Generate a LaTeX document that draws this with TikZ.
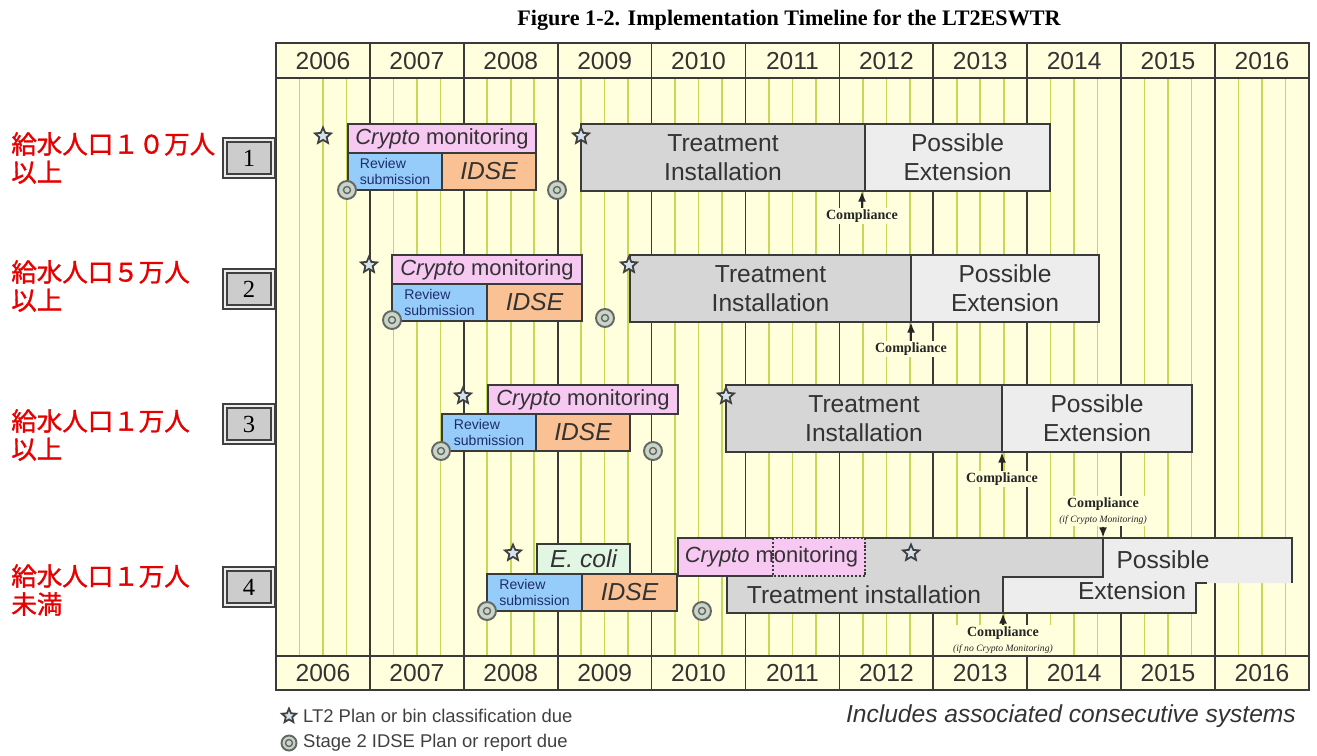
\documentclass[tikz,border=0pt]{standalone}
\usepackage{fontspec}
\setmainfont{Liberation Sans}
\newfontfamily\timesfont{Liberation Serif}
\newfontfamily\jpfont[FakeBold=1.2]{Noto Sans CJK JP}
\usetikzlibrary{positioning,shapes.geometric,arrows.meta}
\newcommand{\pxu}{0.02cm}
\definecolor{chartbg}{RGB}{255,255,222}
\definecolor{quartergreen}{RGB}{198,216,88}
\definecolor{gridgray}{RGB}{58,58,58}
\definecolor{cryptopink}{RGB}{247,200,242}
\definecolor{reviewblue}{RGB}{150,204,250}
\definecolor{reviewtext}{RGB}{30,45,110}
\definecolor{idseorange}{RGB}{250,194,148}
\definecolor{treatgray}{RGB}{214,214,214}
\definecolor{extgray}{RGB}{237,237,237}
\definecolor{ecoligreen}{RGB}{226,246,228}
\definecolor{starfill}{RGB}{212,226,236}
\definecolor{stagefill}{RGB}{200,214,200}
\definecolor{labelred}{RGB}{230,0,0}

\begin{document}
\begin{tikzpicture} [x = 0.02cm, y = -0.02cm,
    box/.style = {rectangle, draw = gridgray, line width = 1.2pt, outer sep = 0pt, inner sep = 1pt, text = black!80},
    crypto/.style = {box, fill = cryptopink, minimum height = 29*\pxu, font = \fontsize{12.5}{14}\selectfont},
    review/.style = {box, fill = reviewblue, minimum height = 37*\pxu, minimum width = 94*\pxu, align = left, text = reviewtext, font = \fontsize{8}{9.5}\selectfont},
    idse/.style = {box, fill = idseorange, minimum height = 37*\pxu, minimum width = 94*\pxu, font = \fontsize{14}{16}\selectfont\itshape},
    treat/.style = {box, fill = treatgray, minimum height = 67*\pxu, align = center, font = \fontsize{14}{16.5}\selectfont},
    ext/.style = {treat, fill = extgray},
    ecoli/.style = {box, fill = ecoligreen, minimum height = 30*\pxu, minimum width = 93*\pxu, font = \fontsize{14}{16}\selectfont\itshape},
    bandtext/.style = {text = black!80, font = \fontsize{14}{16}\selectfont},
    due/.style = {star, star points = 5, star point ratio = 2.2, draw = black!75, fill = starfill, line width = 1pt, minimum size = 17*\pxu, inner sep = 0pt},
    stage/.style = {circle, draw = black!60, fill = stagefill, line width = 1.1pt, minimum size = 18*\pxu, inner sep = 0pt,
        path picture = {\draw [black!60, line width = 0.8pt] (path picture bounding box.center) circle (3.5*\pxu);}},
    comp/.style = {fill = chartbg, inner sep = 1pt, align = center, text = black!85, font = \timesfont\bfseries\fontsize{8}{8.5}\selectfont},
    rowbox/.style = {rectangle, draw = black!75, line width = 1pt, double = gray!15, double distance = 1.2pt, fill = gray!40,
        minimum width = 48*\pxu, minimum height = 36*\pxu, font = \timesfont\fontsize{14}{16}\selectfont},
    jplab/.style = {anchor = west, align = left, inner sep = 0pt, text = labelred, font = \jpfont\fontsize{14.5}{16}\selectfont},
    yearlab/.style = {text = black!80, font = \fontsize{14}{16}\selectfont},
    legend/.style = {text = black!75, font = \fontsize{10.5}{12}\selectfont},
    qline/.style = {quartergreen, line width = 0.9pt},
    yline/.style = {gridgray, line width = 1pt},
    frame/.style = {gridgray, line width = 1.3pt},
    boxline/.style = {gridgray, line width = 1.2pt},
    arr/.style = {-{Latex[length = 6pt, width = 4.5pt]}, line width = 1.3pt, black!85}]
\useasboundingbox (0,0) rectangle (1317,755);
\node (title) [font = \timesfont\bfseries\fontsize{12.6}{14}\selectfont] at (789,20) {Figure 1-2. Implementation Timeline for the LT2ESWTR};

\fill [chartbg] (276,43) rectangle (1309,690);
\foreach \i in {0,...,10}
    \foreach \q in {1,2,3}
        \draw [qline] ({276+93.9*(\i+\q/4)},78) -- ({276+93.9*(\i+\q/4)},656);
\foreach \i in {1,...,10}
    \draw [yline] ({276+93.9*\i},43) -- ({276+93.9*\i},690);
\draw [frame] (276,43) rectangle (1309,690);
\draw [frame] (276,78) -- (1309,78) (276,656) -- (1309,656);
\foreach \yr [count = \i from 0] in {2006,...,2016} {
    \node (top\yr) [yearlab] at ({276+93.9*(\i+0.5)},61) {\yr};
    \node (bot\yr) [yearlab] at ({276+93.9*(\i+0.5)},673) {\yr};
}

\node (r1) [rowbox] at (249,158) {1};
\node (r2) [rowbox] at (249,289) {2};
\node (r3) [rowbox] at (249,424) {3};
\node (r4) [rowbox] at (249,587) {4};
\node (j1) [jplab] at (11,158) {給水人口１０万人\\以上};
\node (j2) [jplab] at (11,286) {給水人口５万人\\以上};
\node (j3) [jplab] at (11,435) {給水人口１万人\\以上};
\node (j4) [jplab] at (11,590) {給水人口１万人\\未満};

\node (cm1) [crypto, minimum width = 188*\pxu, anchor = north west] at (348,124) {\textit{Crypto} monitoring};
\node (rs1) [review, below right = 0pt of cm1.south west] {Review\\submission};
\node (id1) [idse, right = 0pt of rs1] {IDSE};
\node (ti1) [treat, minimum width = 284*\pxu, anchor = north west] at (581,124) {Treatment\\Installation};
\node (pe1) [ext, minimum width = 185*\pxu, right = 0pt of ti1] {Possible\\Extension};

\node (cm2) [crypto, minimum width = 190*\pxu, anchor = north west] at (392,255) {\textit{Crypto} monitoring};
\node (rs2) [review, minimum width = 95*\pxu, below right = 0pt of cm2.south west] {Review\\submission};
\node (id2) [idse, minimum width = 95*\pxu, right = 0pt of rs2] {IDSE};
\node (ti2) [treat, minimum width = 281*\pxu, anchor = north west] at (630,255) {Treatment\\Installation};
\node (pe2) [ext, minimum width = 188*\pxu, right = 0pt of ti2] {Possible\\Extension};

\node (cm3) [crypto, minimum width = 190*\pxu, anchor = north west] at (488,385) {\textit{Crypto} monitoring};
\node (rs3) [review, anchor = north west] at (442,414) {Review\\submission};
\node (id3) [idse, right = 0pt of rs3] {IDSE};
\node (ti3) [treat, minimum width = 276*\pxu, anchor = north west] at (726,385) {Treatment\\Installation};
\node (pe3) [ext, minimum width = 190*\pxu, right = 0pt of ti3] {Possible\\Extension};

\fill [treatgray] (678,538) -- (1103,538) -- (1103,577) -- (1003,577) -- (1003,613) -- (727,613) -- (727,576) -- (678,576) -- cycle;
\fill [extgray] (1103,538) -- (1292,538) -- (1292,583) -- (1196,583) -- (1196,613) -- (1003,613) -- (1003,577) -- (1103,577) -- cycle;
\draw [boxline] (1292,583) -- (1292,538) -- (678,538) -- (678,576) -- (727,576) -- (727,613) -- (1196,613) -- (1196,583) -- (1207,583);
\draw [boxline] (1103,538) -- (1103,577) -- (1003,577) -- (1003,613);
\node (cm4) [crypto, draw = none, minimum width = 187*\pxu, minimum height = 38*\pxu, anchor = north west] at (678,538) {\textit{Crypto} monitoring};
\draw [boxline] (773,538) -- (cm4.north west) -- (cm4.south west) -- (773,576);
\draw [boxline, densely dotted] (773,538) rectangle (cm4.south east);
\node (ti4) [bandtext] at (864,595) {Treatment installation};
\node (pe4a) [bandtext] at (1163,560) {Possible};
\node (pe4b) [bandtext] at (1132,591) {Extension};
\node (ec4) [ecoli, anchor = north west] at (537,544) {E. coli};
\node (rs4) [review, minimum width = 95*\pxu, anchor = north west] at (487,574) {Review\\submission};
\node (id4) [idse, minimum width = 95*\pxu, right = 0pt of rs4] {IDSE};

\node (s1a) [due] at (323,136) {};
\node (s1b) [due] at (581,136) {};
\node (s2a) [due] at (369,265) {};
\node (s2b) [due] at (629,265) {};
\node (s3a) [due] at (463,396) {};
\node (s3b) [due] at (726,396) {};
\node (s4a) [due] at (513,553) {};
\node (s4b) [due] at (911,553) {};
\node (c1a) [stage] at (347,190) {};
\node (c1b) [stage] at (557,190) {};
\node (c2a) [stage] at (392,320) {};
\node (c2b) [stage] at (605,318) {};
\node (c3a) [stage] at (441,451) {};
\node (c3b) [stage] at (653,451) {};
\node (c4a) [stage] at (487,611) {};
\node (c4b) [stage] at (702,611) {};

\node (cp1) [comp] at (862,216) {Compliance};
\node (cp2) [comp] at (911,349) {Compliance};
\node (cp3) [comp] at (1002,479) {Compliance};
\node (cp4a) [comp] at (1103,511) {Compliance\\{\fontsize{5.5}{6}\selectfont\mdseries\itshape(if Crypto Monitoring)}};
\node (cp4b) [comp] at (1003,640) {Compliance\\{\fontsize{5.5}{6}\selectfont\mdseries\itshape(if no Crypto Monitoring)}};
\coordinate (top4) at (1103,538);
\coordinate (bot4) at (1003,613);
\draw [arr] (cp1) -- (cp1 |- ti1.south);
\draw [arr] (cp2) -- (cp2 |- ti2.south);
\draw [arr] (cp3) -- (cp3 |- ti3.south);
\draw [arr] (cp4a) -- (top4);
\draw [arr] (cp4b) -- (bot4);

\node (lg1) [due, minimum size = 15*\pxu] at (289,716) {};
\node (lgt1) [legend, anchor = west] at (297,716) {LT2 Plan or bin classification due};
\node (lg2) [stage, minimum size = 15*\pxu] at (289,743) {};
\node (lgt2) [legend, anchor = west] at (297,743) {Stage 2 IDSE Plan or report due};
\node (note) [anchor = east, text = black!80, font = \fontsize{14}{16}\selectfont\itshape] at (1302,716) {Includes associated consecutive systems};
\end{tikzpicture}
\end{document}
